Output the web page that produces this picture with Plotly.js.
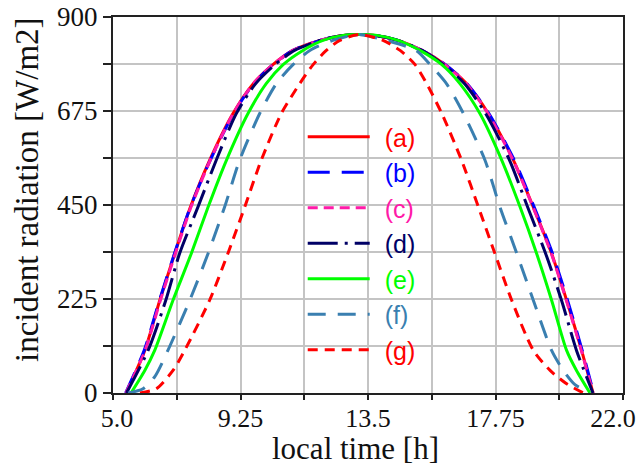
<!DOCTYPE html>
<html>
<head>
<meta charset="utf-8">
<script src="https://cdn.plot.ly/plotly-3.0.1.min.js"></script>
<style>html,body{margin:0;padding:0;background:#fff;}#chart{width:639px;height:467px;}</style>
</head>
<body>
<div id="chart"></div>
<script>
// categories / tick labels
const xTickVals = [5, 7.125, 9.25, 11.375, 13.5, 15.625, 17.75, 19.875, 22];
const xTickText = ['5.0', '', '9.25', '', '13.5', '', '17.75', '', '22.0'];
const yTickVals = [0, 112.5, 225, 337.5, 450, 562.5, 675, 787.5, 900];
const yTickText = ['0', '', '225', '', '450', '', '675', '', '900'];
const seriesNames = ['(a)', '(b)', '(c)', '(d)', '(e)', '(f)', '(g)'];
const xTitle = 'local time [h]';
const yTitle = 'incident radiation [W/m2]';

// series values (local time [h], incident radiation [W/m2])
const xA = [5.44, 6.06, 6.56, 7.06, 7.58, 8.22, 9.0, 9.67, 10.33, 11.0, 11.9, 12.6, 13.2, 13.8, 14.5, 15.3, 16.07, 16.79, 17.51, 18.35, 19.01, 19.62, 20.12, 20.62, 21.0];
const yA = [0, 102, 222, 334, 445, 557, 669, 740, 786, 820, 844, 855, 858, 855, 844, 820, 786, 740, 669, 557, 445, 334, 222, 102, 0];

const xB = [5.42, 6.04, 6.55, 7.05, 7.58, 8.24, 9.02, 9.68, 10.34, 11.0, 11.9, 12.6, 13.2, 13.8, 14.5, 15.3, 16.08, 16.8, 17.53, 18.38, 19.04, 19.65, 20.15, 20.64, 21.02];
const yB = [0, 102, 222, 334, 445, 557, 669, 740, 786, 820, 844, 855, 858, 855, 844, 820, 786, 740, 669, 557, 445, 334, 222, 102, 0];

const xC = [5.43, 6.07, 6.58, 7.08, 7.6, 8.24, 9.01, 9.67, 10.33, 11.0, 11.9, 12.6, 13.2, 13.8, 14.5, 15.3, 16.06, 16.78, 17.5, 18.34, 19.0, 19.61, 20.11, 20.61, 21.0];
const yC = [0, 102, 222, 334, 445, 557, 669, 740, 786, 820, 844, 855, 858, 855, 844, 820, 786, 740, 669, 557, 445, 334, 222, 102, 0];

const xD = [5.45, 6.17, 6.76, 7.22, 7.83, 8.44, 9.11, 9.75, 10.4, 11.05, 11.9, 12.6, 13.2, 13.8, 14.5, 15.3, 16.02, 16.72, 17.42, 18.22, 18.82, 19.42, 19.95, 20.45, 21.0];
const yD = [0, 102, 222, 334, 445, 557, 669, 740, 786, 820, 844, 855, 858, 855, 844, 820, 786, 740, 669, 557, 445, 334, 222, 102, 0];

const xE = [5.6, 6.06, 6.39, 7.0, 7.61, 8.17, 8.78, 9.5, 10.1, 10.67, 11.33, 12.0, 12.67, 13.2, 13.8, 14.5, 15.23, 15.96, 16.57, 17.23, 17.96, 18.57, 19.12, 19.62, 20.12, 20.45, 20.9];
const yE = [0, 54, 102, 222, 334, 445, 557, 669, 740, 786, 820, 844, 856, 858, 856, 844, 820, 786, 740, 669, 557, 445, 334, 222, 102, 54, 0];

const xF = [5.5, 6.0, 6.4, 6.83, 7.56, 8.17, 8.72, 9.22, 9.89, 10.44, 11.0, 11.56, 12.33, 13.2, 14.1, 15.1, 15.57, 16.12, 16.68, 17.4, 17.9, 18.46, 19.01, 19.62, 20.01, 20.4, 20.9];
const yF = [0, 10, 40, 102, 222, 334, 445, 557, 669, 740, 786, 820, 844, 858, 844, 820, 786, 740, 669, 557, 445, 334, 222, 102, 54, 20, 0];

const xG = [5.9, 6.44, 7.0, 7.39, 8.22, 8.83, 9.39, 9.94, 10.61, 11.22, 11.67, 12.11, 12.56, 13.2, 14.0, 14.57, 15.07, 15.46, 15.96, 16.62, 17.18, 17.73, 18.29, 19.01, 19.57, 20.12, 20.68];
const yG = [0, 10, 54, 102, 222, 334, 445, 557, 669, 740, 786, 820, 844, 858, 844, 820, 786, 740, 669, 557, 445, 334, 222, 102, 54, 22, 0];

const xs = [xA, xB, xC, xD, xE, xF, xG];
const ys = [yA, yB, yC, yD, yE, yF, yG];
const colors = ['#ff0000', '#0000ff', '#ff1aa8', '#000066', '#00ff00', '#3a7fb0', '#ff0000'];
const dashes = ['solid', '22px,12px', '10px,6px', '30px,7px,3px,7px', 'solid', '18px,12px', '10px,7px'];

const traces = seriesNames.map((n, i) => ({
  x: xs[i], y: ys[i], name: n, type: 'scatter', mode: 'lines',
  line: {color: colors[i], width: 3, dash: dashes[i], shape: 'spline', smoothing: 0.7},
  cliponaxis: true
}));

const serif = '"Liberation Serif", "Times New Roman", serif';
const layout = {
  width: 639, height: 467,
  margin: {l: 113, r: 16, t: 17, b: 74},
  paper_bgcolor: '#fff', plot_bgcolor: '#fff',
  showlegend: true,
  legend: {
    x: 0.372, y: 0.742, xanchor: 'left', yanchor: 'top',
    bgcolor: 'rgba(0,0,0,0)', borderwidth: 0,
    font: {family: '"Liberation Sans", Arial, sans-serif', size: 25, color: '#ff0000'},
    itemwidth: 62, tracegroupgap: 0
  },
  xaxis: {
    range: [5, 22], tickmode: 'array', tickvals: xTickVals, ticktext: xTickText,
    ticks: 'outside', ticklen: 5, tickwidth: 2, tickcolor: '#222',
    ticklabeloverflow: 'allow',
    showline: true, linewidth: 2, linecolor: '#222', mirror: true,
    showgrid: true, gridcolor: '#c4c4c4', gridwidth: 2, zeroline: false,
    tickfont: {family: serif, size: 26, color: '#111'}
  },
  yaxis: {
    range: [0, 900], tickmode: 'array', tickvals: yTickVals, ticktext: yTickText,
    ticks: 'outside', ticklen: 8, tickwidth: 2, tickcolor: '#222',
    showline: true, linewidth: 2, linecolor: '#222', mirror: true,
    showgrid: true, gridcolor: '#c4c4c4', gridwidth: 2, zeroline: false,
    tickfont: {family: serif, size: 27, color: '#111'}
  },
  annotations: [
    {text: xTitle, xref: 'paper', yref: 'paper', x: 0.4755, y: -74 / 376, xanchor: 'center', yanchor: 'bottom',
     showarrow: false, borderpad: 0, font: {family: serif, size: 31, color: '#111'}},
    {text: yTitle, xref: 'paper', yref: 'paper', x: -0.1686, y: 0.54, xanchor: 'center', yanchor: 'middle',
     textangle: -90, showarrow: false, font: {family: serif, size: 33, color: '#111'}}
  ]
};

Plotly.newPlot('chart', traces, layout, {staticPlot: true, displayModeBar: false}).then(() => {
  const gd = document.getElementById('chart');
  // widen the legend clip so labels can sit a little further right
  gd.querySelectorAll('clipPath[id^="legend"] rect').forEach(r => {
    r.setAttribute('width', (parseFloat(r.getAttribute('width')) || 0) + 20);
  });
  // colour each legend label like its line and leave a wider gap after the sample line
  gd.querySelectorAll('.legend .traces .legendtext').forEach((t, i) => {
    t.style.fill = colors[i];
    t.setAttribute('x', (parseFloat(t.getAttribute('x')) || 0) + 10);
  });
  // nudge x tick labels (label groups only): closer to the axis, end labels pulled inward
  gd.querySelectorAll('.xaxislayer-above g.xtick').forEach(g => {
    const s = g.textContent.trim();
    const dx = s === '22.0' ? -10 : (s === '5.0' ? 4 : 0);
    const prev = g.getAttribute('transform') || '';
    g.setAttribute('transform', 'translate(' + dx + ',-4) ' + prev);
  });
});
</script>
</body>
</html>
